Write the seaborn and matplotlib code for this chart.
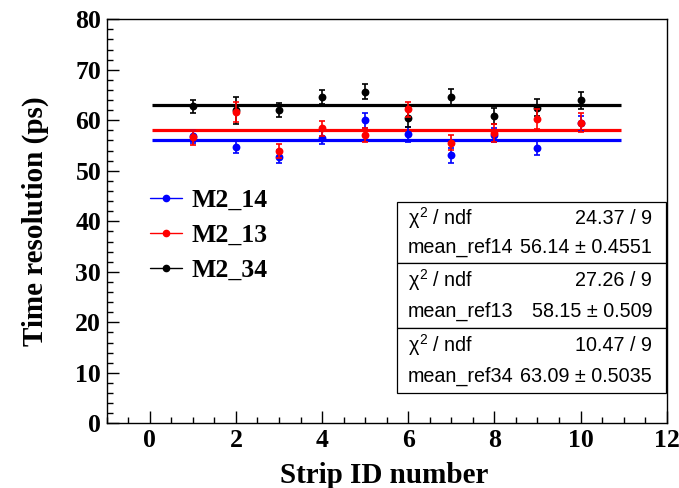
import numpy as np
import pandas as pd
import matplotlib
matplotlib.use("Agg")
import matplotlib.pyplot as plt
from matplotlib.lines import Line2D
from matplotlib.patches import Rectangle
from matplotlib.ticker import MultipleLocator
import seaborn as sns

# ---------------- data ----------------
strip_id = [1, 2, 3, 4, 5, 6, 7, 8, 9, 10]

m2_14 = [56.8, 54.65, 52.8, 56.55, 60.0, 57.2, 53.1, 57.1, 54.6, 59.4]
m2_14_err = [1.2, 1.2, 1.25, 1.3, 1.5, 1.5, 1.5, 1.3, 1.55, 1.5]

m2_13 = [56.6, 61.7, 53.85, 58.4, 57.1, 62.2, 55.6, 57.5, 60.25, 59.5]
m2_13_err = [1.4, 1.95, 1.4, 1.5, 1.42, 1.5, 1.55, 1.8, 1.9, 1.85]

m2_34 = [62.75, 62.0, 62.0, 64.6, 65.7, 60.5, 64.55, 60.85, 62.5, 63.95]
m2_34_err = [1.35, 2.7, 1.42, 1.42, 1.52, 1.9, 1.55, 1.65, 1.68, 1.75]

series_names = ["M2_14", "M2_13", "M2_34"]
series_colors = ["#0000ff", "#ff0000", "#000000"]

fit_range = [0.05, 10.95]
fit_means = [56.14, 58.15, 63.09]
fit_mean_errs = ["0.4551", "0.509", "0.5035"]
fit_chi2 = ["24.37", "27.26", "10.47"]
fit_ndf = [9, 9, 9]
fit_names = ["mean_ref14", "mean_ref13", "mean_ref34"]

# ---------------- figure ----------------
sns.set_theme(style="ticks")
plt.rcParams["font.family"] = ["Liberation Serif", "DejaVu Serif"]
plt.rcParams["text.color"] = "black"
plt.rcParams["axes.labelcolor"] = "black"
plt.rcParams["xtick.color"] = "black"
plt.rcParams["ytick.color"] = "black"
plt.rcParams["mathtext.fontset"] = "custom"
plt.rcParams["mathtext.rm"] = "Liberation Sans"
plt.rcParams["mathtext.it"] = "Liberation Sans"

W, H = 679, 488
fig = plt.figure(figsize=(W / 100, H / 100), dpi=100)
fig.patch.set_facecolor("white")
x0, x1, y_top, y_bot = 106.7, 666.7, 19.3, 423.3
ax = fig.add_axes([x0 / W, (H - y_bot) / H, (x1 - x0) / W, (y_bot - y_top) / H])
ax.set_facecolor("white")

frames = []
for name, vals, errs in [("M2_14", m2_14, m2_14_err),
                         ("M2_13", m2_13, m2_13_err),
                         ("M2_34", m2_34, m2_34_err)]:
    frames.append(pd.DataFrame({"strip": strip_id, "res": vals, "err": errs, "series": name}))
df = pd.concat(frames, ignore_index=True)

fit_df = pd.concat([pd.DataFrame({"strip": fit_range, "res": [m, m], "series": n})
                    for n, m in zip(series_names, fit_means)], ignore_index=True)

palette = dict(zip(series_names, series_colors))

# fit lines
sns.lineplot(data=fit_df, x="strip", y="res", hue="series", palette=palette,
             linewidth=2.3, legend=False, ax=ax, zorder=2)
for line in ax.get_lines():
    line.set_solid_capstyle("butt")

# draw order: blue, black, red
draw_order = ["M2_14", "M2_34", "M2_13"]
for z, name in enumerate(draw_order):
    sub = df[df["series"] == name]
    ax.errorbar(sub["strip"], sub["res"], yerr=sub["err"], fmt="none",
                ecolor=palette[name], elinewidth=1.2, capsize=2.4, capthick=1.2,
                zorder=3 + 2 * z)
    sns.scatterplot(data=sub, x="strip", y="res", color=palette[name], s=32,
                    linewidth=0, ax=ax, zorder=4 + 2 * z, legend=False)

# axes
ax.set_xlim(-1, 12)
ax.set_ylim(0, 80)
ax.xaxis.set_major_locator(MultipleLocator(2))
ax.xaxis.set_minor_locator(MultipleLocator(0.5))
ax.yaxis.set_major_locator(MultipleLocator(10))
ax.yaxis.set_minor_locator(MultipleLocator(2))
ax.tick_params(which="both", direction="in", top=False, right=False,
               color="black", width=1.0, labelcolor="black")
ax.tick_params(which="major", length=8.6, labelsize=18.5)
ax.tick_params(which="minor", length=4.3)
ax.tick_params(axis="x", which="major", pad=4)
ax.tick_params(axis="y", which="major", pad=4)
for lbl in ax.get_xticklabels() + ax.get_yticklabels():
    lbl.set_fontweight("bold")
for sp in ax.spines.values():
    sp.set_visible(True)
    sp.set_linewidth(1.0)
    sp.set_color("black")

ax.set_xlabel("Strip ID number", fontsize=21, fontweight="bold", color="black")
ax.set_ylabel("Time resolution (ps)", fontsize=21, fontweight="bold", color="black")
ax.xaxis.set_label_coords(0.495, -0.095)
ax.yaxis.set_label_coords(-0.103, 0.5)

# legend
handles = [Line2D([], [], color=c, marker="o", markersize=4.5, linewidth=1.0)
           for c in series_colors]
leg = ax.legend(handles, series_names, loc="upper left",
                bbox_to_anchor=(150 / W, 1 - 189 / H), bbox_transform=fig.transFigure,
                frameon=False, borderpad=0, borderaxespad=0, handlelength=1.25,
                handletextpad=0.35, labelspacing=0.47,
                prop={"family": "Liberation Serif", "weight": "bold", "size": 18.5})

# stats boxes
box_left, box_right = 396.7, 666.0
box_tops = [202.3, 263.3, 328.3]
box_bottoms = [263.3, 328.3, 393.3]
sans = ["Liberation Sans", "DejaVu Sans"]
fs_box = 14.2
for i in range(3):
    top, bot = box_tops[i], box_bottoms[i]
    rect = Rectangle((box_left / W, 1 - bot / H), (box_right - box_left) / W, (bot - top) / H,
                     transform=fig.transFigure, facecolor="white", edgecolor="black",
                     linewidth=0.9, zorder=10)
    fig.add_artist(rect)
    hgt = bot - top
    r1 = 1 - (top + 0.26 * hgt) / H
    r2 = 1 - (top + 0.74 * hgt) / H
    fig.text(408 / W, r1, r"$\chi^{2}$ / ndf", family=sans, fontsize=fs_box,
             ha="left", va="center", zorder=11)
    fig.text(652 / W, r1, f"{fit_chi2[i]} / {fit_ndf[i]}", family=sans, fontsize=fs_box,
             ha="right", va="center", zorder=11)
    fig.text(408 / W, r2, fit_names[i], family=sans, fontsize=fs_box,
             ha="left", va="center", zorder=11)
    fig.text(652 / W, r2, f"{fit_means[i]:.2f} \u00b1 {fit_mean_errs[i]}", family=sans,
             fontsize=fs_box, ha="right", va="center", zorder=11)

fig.savefig("out.png", dpi=100, facecolor="white")
